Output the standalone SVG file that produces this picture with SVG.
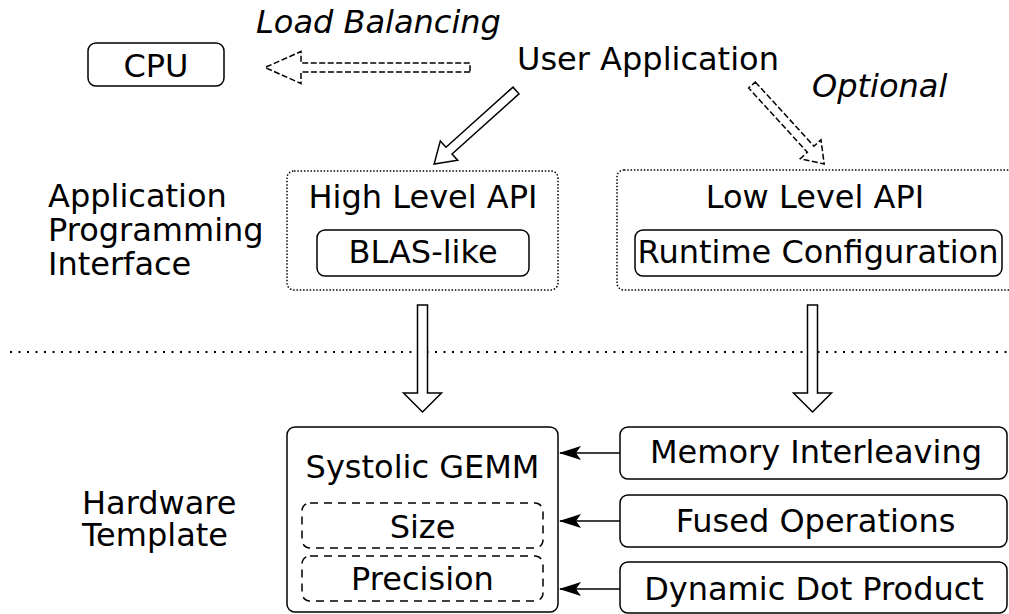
<svg xmlns="http://www.w3.org/2000/svg" width="1009" height="614" viewBox="0 0 1009 614">
<style>
text{font-family:"DejaVu Sans","Liberation Sans",sans-serif;font-size:32px;fill:#000}
.c{text-anchor:middle}
.it{font-style:italic}
.box{fill:#fff;stroke:#000;stroke-width:1.5}
.dot{fill:none;stroke:#000;stroke-width:1.5;stroke-dasharray:1.5 1.8}
.dash{fill:none;stroke:#000;stroke-width:1.5;stroke-dasharray:8 6}
.harrow{fill:#fff;stroke:#000;stroke-width:1.5}
.darrow{fill:#fff;stroke:#000;stroke-width:1.5;stroke-dasharray:6 2.5}
.line{stroke:#000;stroke-width:1.5;fill:none}
</style>
<defs>
<marker id="ah" viewBox="0 0 22 14" markerWidth="22" markerHeight="14" refX="21" refY="7" orient="auto" markerUnits="userSpaceOnUse">
<path d="M0,0 L22,7 L0,14 L5,7 z" fill="#000"/>
</marker>
</defs>

<g id="labels">
<text class="it" x="256" y="33">Load Balancing</text>
<text class="it" x="812" y="97">Optional</text>
<text x="48" y="207">Application</text>
<text x="48" y="241">Programming</text>
<text x="48" y="275">Interface</text>
<text x="82" y="514">Hardware</text>
<text x="82" y="546">Template</text>
</g>

<g id="cpu">
<rect class="box" x="88" y="43" width="136" height="43" rx="8"/>
<text class="c" x="156" y="77">CPU</text>
</g>

<g id="user-app">
<text x="517" y="70">User Application</text>
</g>

<g id="high-level-api">
<rect class="dot" x="287" y="171" width="271" height="119" rx="7"/>
<text class="c" x="423" y="208">High Level API</text>
<g id="blas-like">
<rect class="box" x="317" y="230" width="212" height="46" rx="8"/>
<text class="c" x="423" y="263">BLAS-like</text>
</g>
</g>

<g id="low-level-api">
<rect class="dot" x="617" y="170" width="400" height="120" rx="7"/>
<text class="c" x="815" y="208">Low Level API</text>
<g id="runtime-config">
<rect class="box" x="635" y="230" width="367" height="46" rx="8"/>
<text class="c" x="818" y="263">Runtime Configuration</text>
</g>
</g>

<g id="separator">
<line x1="10" y1="352" x2="1009" y2="352" stroke="#000" stroke-width="2" stroke-dasharray="2 6.5"/>
</g>

<g id="systolic-gemm">
<rect class="box" x="287" y="427" width="271" height="185" rx="8"/>
<text class="c" x="422.5" y="478">Systolic GEMM</text>
<g id="size">
<rect class="dash" x="302" y="503" width="241" height="45" rx="8"/>
<text class="c" x="422.5" y="538">Size</text>
</g>
<g id="precision">
<rect class="dash" x="302" y="556" width="241" height="45" rx="8"/>
<text class="c" x="422.5" y="590">Precision</text>
</g>
</g>

<g id="memory-interleaving">
<rect class="box" x="620" y="427" width="387" height="52" rx="8"/>
<text class="c" x="816" y="463">Memory Interleaving</text>
</g>
<g id="fused-operations">
<rect class="box" x="620" y="495" width="387" height="52" rx="8"/>
<text class="c" x="815.5" y="532">Fused Operations</text>
</g>
<g id="dynamic-dot-product">
<rect class="box" x="620" y="562" width="387" height="51" rx="8"/>
<text class="c" x="814" y="600">Dynamic Dot Product</text>
</g>

<g id="connectors">
<polygon class="darrow" transform="translate(470,67.5) rotate(180)" points="0,-4.5 169,-4.5 169,-16 205,0 169,16 169,4.5 0,4.5"/>
<polygon class="harrow" transform="translate(516,90.5) rotate(138.1)" points="0,-4.5 90,-4.5 90,-13 110,0 90,13 90,4.5 0,4.5"/>
<polygon class="darrow" transform="translate(752,85) rotate(47.6)" points="0,-4.5 87,-4.5 87,-14 107,0 87,14 87,4.5 0,4.5"/>
<polygon class="harrow" points="417.5,305 427.5,305 427.5,393 441.5,393 422.5,412 403.5,393 417.5,393"/>
<polygon class="harrow" points="807.5,305 817.5,305 817.5,393 831.5,393 812.5,412 793.5,393 807.5,393"/>
<line class="line" x1="620" y1="453" x2="560" y2="453" marker-end="url(#ah)"/>
<line class="line" x1="620" y1="521" x2="560" y2="521" marker-end="url(#ah)"/>
<line class="line" x1="620" y1="589" x2="560" y2="589" marker-end="url(#ah)"/>
</g>
</svg>
